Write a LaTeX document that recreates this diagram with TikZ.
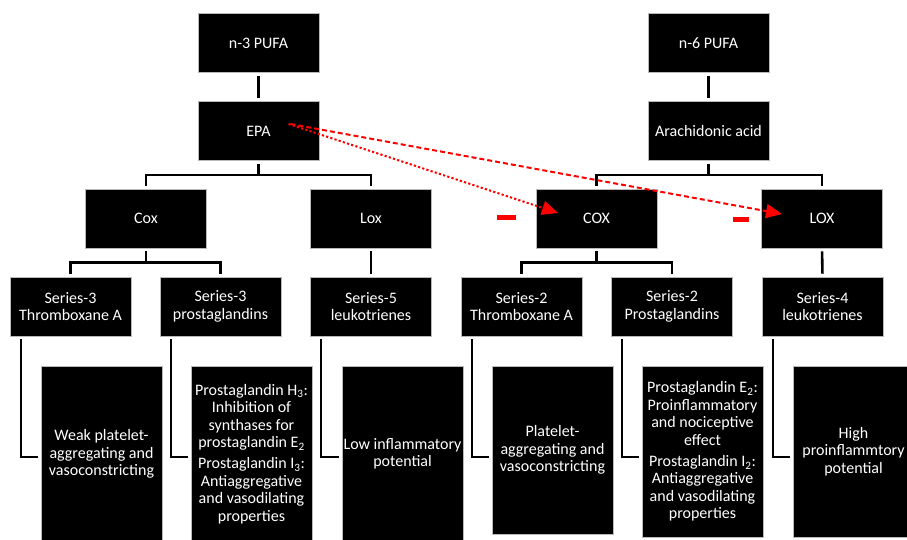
\documentclass[tikz,border=0pt]{standalone}
\usepackage{fontspec}
\setmainfont{Carlito}
\usetikzlibrary{arrows.meta,calc}
\begin{document}
\begin{tikzpicture}[x=1pt,y=-1pt,
  box/.style={fill=black,draw=gray!55,line width=0.8pt,text=white,align=center,
    inner sep=0pt,font=\fontsize{16}{17.4}\selectfont},
  sbox/.style={box,minimum width=121pt,minimum height=59pt},
  tbox/.style={box,minimum width=121pt},
  conn/.style={line width=2.6pt,shorten <=3pt,shorten >=3pt},
  elbow/.style={line width=2.2pt},
  inh/.style={red,line width=2pt,-{Triangle[length=16pt,width=14pt]}},
  minusbar/.style={fill=red,inner sep=0pt,minimum width=19pt,minimum height=5pt}]
\useasboundingbox (0,0) rectangle (907,540);
\begin{scope}
\clip (0,0) rectangle (907,540);
% row 1
\node[sbox] (n3) at (258.5,43) {n-3 PUFA};
\node[sbox] (n6) at (708.5,43) {n-6 PUFA};
% row 2
\node[sbox] (epa) at (258.5,131) {EPA};
\node[sbox] (aa) at (708.5,131) {Arachidonic acid};
% row 3
\node[sbox] (cox3) at (146,218.5) {Cox};
\node[sbox] (lox3) at (371,218.5) {Lox};
\node[sbox] (cox6) at (596.5,218.5) {COX};
\node[sbox] (lox6) at (822,218.5) {LOX};
% row 4
\node[sbox] (s3t) at (70.5,306.5) {Series-3\\Thromboxane A};
\node[sbox] (s3p) at (220.5,306.5) {Series-3\\prostaglandins};
\node[sbox] (s5l) at (371,306.5) {Series-5\\leukotrienes};
\node[sbox] (s2t) at (521.5,306.5) {Series-2\\Thromboxane A};
\node[sbox] (s2p) at (672,306.5) {Series-2\\Prostaglandins};
\node[sbox] (s4l) at (822.5,306.5) {Series-4\\leukotrienes};
% row 5
\node[tbox,minimum height=176pt] (e1) at (101.5,454) {Weak platelet-\\aggregating and\\vasoconstricting};
\node[tbox,minimum height=176pt] (e2) at (251.5,454) {Prostaglandin H\textsubscript{3}:\\Inhibition of\\synthases for\\prostaglandin E\textsubscript{2}\\[4pt]Prostaglandin I\textsubscript{3}:\\Antiaggregative\\and vasodilating\\properties};
\node[tbox,minimum height=176pt] (e3) at (402.5,454) {Low inflammatory\\potential};
\node[tbox,minimum height=168pt] (e4) at (552.5,450) {Platelet-\\aggregating and\\vasoconstricting};
\node[tbox,minimum height=171pt] (e5) at (702.5,451.5) {Prostaglandin E\textsubscript{2}:\\Proinflammatory\\and nociceptive\\effect\\[4pt]Prostaglandin I\textsubscript{2}:\\Antiaggregative\\and vasodilating\\properties};
\node[tbox,minimum height=171pt] (e6) at (853.5,451.5) {High\\proinflammtory\\potential};
\end{scope}
% tree connectors
\draw[conn] (n3.south) -- (epa.north);
\draw[conn] (n6.south) -- (aa.north);
\draw[conn] (epa.south) -- ++(0,14) -| (cox3.north);
\draw[conn] (epa.south) -- ++(0,14) -| (lox3.north);
\draw[conn] (aa.south) -- ++(0,14) -| (cox6.north);
\draw[conn] (aa.south) -- ++(0,14) -| (lox6.north);
\draw[conn] (cox3.south) -- ++(0,14) -| (s3t.north);
\draw[conn] (cox3.south) -- ++(0,14) -| (s3p.north);
\draw[conn] (lox3.south) -- (s5l.north);
\draw[conn] (cox6.south) -- ++(0,14) -| (s2t.north);
\draw[conn] (cox6.south) -- ++(0,14) -| (s2p.north);
\draw[conn] (lox6.south) -- (s4l.north);
% elbow connectors
\foreach \a/\b in {s3t/e1,s3p/e2,s5l/e3,s2t/e4,s2p/e5,s4l/e6}{
  \draw[elbow] ($(\a.south west)+(11,3)$) |- ($(\b.west |- 0,457)+(-3,0)$);
}
% inhibition arrows
\draw[inh,dash pattern=on 2.2pt off 2.2pt] ($(epa.center)+(30,-7)$) -- ($(cox6.center)+(-38.5,-5.5)$);
\draw[inh,dash pattern=on 5pt off 3pt] ($(epa.center)+(32,-7)$) -- ($(lox6.center)+(-40,-4.5)$);
\node[minusbar] (m1) at (506.5,217.5) {};
\node[minusbar,minimum width=16pt] (m2) at (741,219.5) {};
\end{tikzpicture}
\end{document}
